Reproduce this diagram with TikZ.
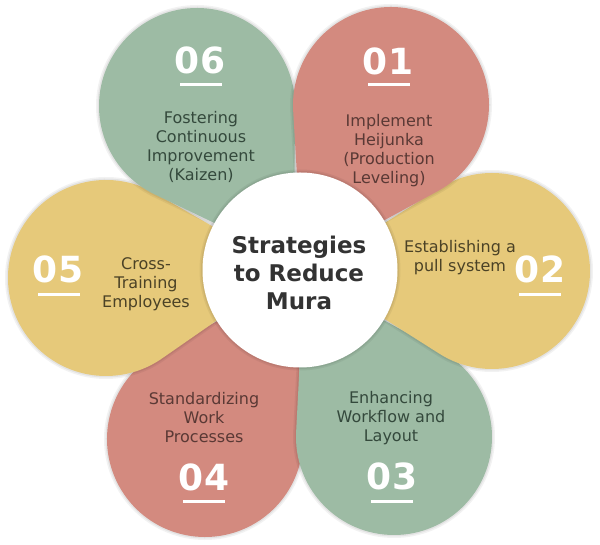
\documentclass[tikz,border=0pt]{standalone}
\usepackage{fontspec}
\setmainfont{DejaVu Sans}
\usetikzlibrary{calc}
\definecolor{pgreen}{HTML}{9DBBA4}
\definecolor{pred}{HTML}{D38A7F}
\definecolor{pyellow}{HTML}{E6C97A}
\definecolor{tgreen}{HTML}{34493C}
\definecolor{tred}{HTML}{5A3935}
\definecolor{tyellow}{HTML}{4B4226}
\definecolor{tcenter}{HTML}{333333}
\tikzset{
  softshadowA/.style={draw=black, draw opacity=0.05, line width=6pt, fill=none},
  softshadowB/.style={draw=black, draw opacity=0.06, line width=3pt, fill=none},
  numtext/.style={text=white, font=\fontsize{36}{40}\selectfont\bfseries, inner sep=0pt, anchor=center},
  bodytext/.style={text=#1, font=\fontsize{16}{19}\selectfont, align=center, inner sep=0pt, anchor=center},
  bar/.style={fill=white, minimum width=42pt, minimum height=3pt, inner sep=0pt, draw=none},
  hub/.style={circle, fill=white, minimum size=195pt, inner sep=0pt},
  titletext/.style={text=tcenter, font=\fontsize{23}{28}\selectfont\bfseries, align=center, inner sep=0pt}
}
\newcommand\petalpath[2]{($(#1)+(#2:183pt)$) -- ($(#1)+(#2+57.6:98pt)$)
    arc[start angle=#2+57.6, delta angle=244.8, radius=98pt] -- cycle}
\newcommand\drawpetal[3]{%
  \path[softshadowA] \petalpath{#1}{#2};
  \path[softshadowB] \petalpath{#1}{#2};
  \fill[#3] \petalpath{#1}{#2};
}
\begin{document}
\begin{tikzpicture}[x=1pt,y=1pt]
\useasboundingbox (0,0) rectangle (600,545);
\fill[white] (0,0) rectangle (600,545);
% petal centres
\coordinate (O) at (300,275);
\coordinate (c06) at (197,439);
\coordinate (c01) at (391,440);
\coordinate (c02) at (492,274);
\coordinate (c05) at (106,267);
\coordinate (c04) at (205,106);
\coordinate (c03) at (394,108);
% petals
\drawpetal{c04}{60.7}{pred}
\drawpetal{c03}{119.4}{pgreen}
\drawpetal{c05}{2.4}{pyellow}
\drawpetal{c02}{180}{pyellow}
\drawpetal{c06}{-58}{pgreen}
\drawpetal{c01}{241}{pred}
% hub
\draw[softshadowA] (O) circle[radius=97.5pt];
\draw[softshadowB] (O) circle[radius=97.5pt];
\node[hub] (hub) at (O) {};
\node[titletext] (title) at (299,272) {Strategies\\to Reduce\\Mura};
% numbers
\node[numtext] (n06) at (200,485) {06};
\node[bar] (u06) at (201,460) {};
\node[numtext] (n01) at (388,484) {01};
\node[bar] (u01) at (389,460) {};
\node[numtext] (n02) at (540,276) {02};
\node[bar] (u02) at (540,250) {};
\node[numtext] (n05) at (58,276) {05};
\node[bar] (u05) at (59,250) {};
\node[numtext] (n04) at (204,68) {04};
\node[bar] (u04) at (204,43) {};
\node[numtext] (n03) at (392,69) {03};
\node[bar] (u03) at (392,43) {};
% texts
\node[bodytext=tgreen] (t06) at (201,398) {Fostering\\Continuous\\Improvement\\(Kaizen)};
\node[bodytext=tred] (t01) at (389,394) {Implement\\Heijunka\\(Production\\Leveling)};
\node[bodytext=tyellow] (t02) at (460,287) {Establishing a\\pull system};
\node[bodytext=tyellow] (t05) at (146,261) {Cross-\\Training\\Employees};
\node[bodytext=tred] (t04) at (204,127) {Standardizing\\Work\\Processes};
\node[bodytext=tgreen] (t03) at (391,127) {Enhancing\\Workflow and\\Layout};
\end{tikzpicture}
\end{document}
